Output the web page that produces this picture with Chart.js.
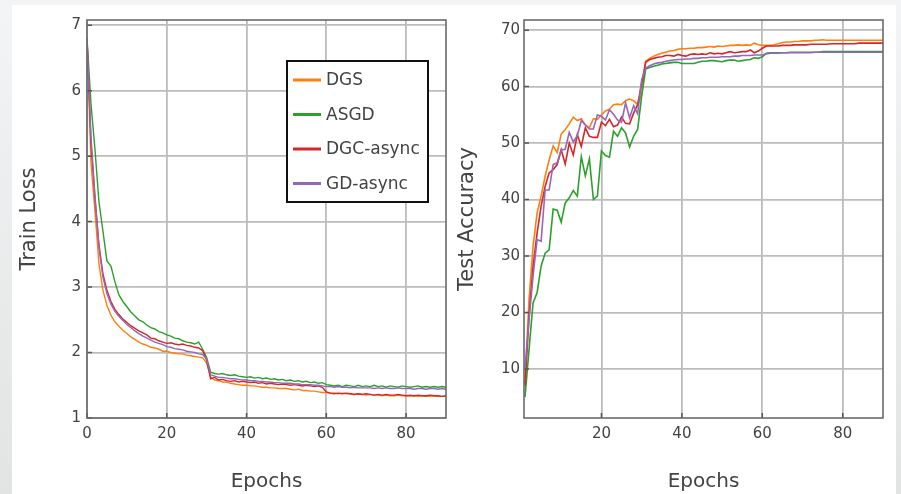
<!DOCTYPE html>
<html>
<head>
<meta charset="utf-8">
<script src="https://cdn.jsdelivr.net/npm/chart.js@4.4.1/dist/chart.umd.min.js"></script>
<style>
  html, body { margin: 0; padding: 0; }
  body {
    width: 901px; height: 494px; overflow: hidden; position: relative;
    background: linear-gradient(to bottom, #f3f4f5, #e2e3e3);
  }
  #panel { position: absolute; left: 12px; top: 5px; width: 884px; height: 489px; background: #fff; }
  #lossBox { position: absolute; left: 0; top: 0; width: 450px; height: 494px; }
  #accBox { position: absolute; left: 450px; top: 0; width: 451px; height: 494px; }
</style>
</head>
<body>
<div id="panel"></div>
<div id="lossBox"><canvas id="loss" width="450" height="494"></canvas></div>
<div id="accBox"><canvas id="acc" width="451" height="494"></canvas></div>
<script>
// ---- data ----
const seriesNames = ["DGS", "ASGD", "DGC-async", "GD-async"];
const seriesColors = ["#ff7f0e", "#2ca02c", "#d62728", "#9467bd"];

const lossEpochs = [0,1,2,3,4,5,6,7,8,9,10,11,12,13,14,15,16,17,18,19,20,21,22,23,24,25,26,27,28,29,30,
  31,32,33,34,35,36,37,38,39,40,41,42,43,44,45,46,47,48,49,50,51,52,53,54,55,56,57,58,59,60,
  61,62,63,64,65,66,67,68,69,70,71,72,73,74,75,76,77,78,79,80,81,82,83,84,85,86,87,88,89,90];

const lossDGS = [6.8,4.9,4.15,3.35,2.95,2.72,2.57,2.47,2.40,2.34,2.29,2.24,2.20,2.16,2.13,2.11,2.08,2.07,2.05,2.02,2.02,
  2.00,1.99,1.98,1.98,1.96,1.95,1.94,1.93,1.92,1.84,
  1.62,1.58,1.57,1.55,1.55,1.53,1.52,1.51,1.50,1.50,1.49,1.49,1.48,1.47,1.47,1.46,1.46,1.45,1.45,1.45,
  1.44,1.43,1.44,1.42,1.42,1.41,1.41,1.40,1.39,1.39,1.38,1.38,1.37,1.38,1.37,1.37,1.36,1.37,1.36,1.35,
  1.36,1.35,1.35,1.34,1.35,1.34,1.34,1.35,1.34,1.34,1.33,1.34,1.33,1.34,1.33,1.33,1.34,1.33,1.33,1.33];
const lossASGD = [6.8,5.8,5.1,4.3,3.85,3.40,3.32,3.08,2.88,2.78,2.70,2.62,2.56,2.50,2.47,2.42,2.38,2.36,2.32,2.30,2.27,
  2.25,2.22,2.21,2.18,2.16,2.15,2.13,2.16,2.05,1.92,
  1.70,1.68,1.67,1.68,1.66,1.65,1.66,1.64,1.63,1.62,1.63,1.61,1.62,1.60,1.61,1.59,1.60,1.58,1.59,1.57,
  1.58,1.56,1.57,1.55,1.56,1.54,1.55,1.53,1.54,1.51,1.50,1.49,1.50,1.48,1.50,1.49,1.48,1.50,1.48,1.49,
  1.48,1.50,1.48,1.49,1.47,1.49,1.48,1.47,1.49,1.48,1.47,1.48,1.49,1.47,1.48,1.47,1.48,1.47,1.48,1.47];
const lossDGC = [6.8,5.2,4.35,3.65,3.2,2.95,2.78,2.66,2.58,2.51,2.46,2.41,2.37,2.33,2.30,2.27,2.22,2.21,2.18,2.16,2.14,
  2.15,2.13,2.12,2.13,2.11,2.10,2.08,2.07,2.03,1.88,
  1.60,1.62,1.58,1.59,1.57,1.56,1.57,1.55,1.56,1.55,1.54,1.55,1.53,1.54,1.52,1.53,1.52,1.51,1.52,1.51,
  1.50,1.51,1.50,1.49,1.50,1.49,1.48,1.49,1.47,1.40,1.38,1.37,1.38,1.37,1.38,1.37,1.36,1.37,1.36,1.37,
  1.36,1.35,1.36,1.35,1.36,1.35,1.35,1.36,1.35,1.34,1.35,1.34,1.35,1.34,1.34,1.35,1.34,1.34,1.33,1.34];
const lossGD = [6.8,5.3,4.4,3.6,3.15,2.9,2.74,2.63,2.55,2.49,2.43,2.38,2.33,2.29,2.25,2.22,2.19,2.16,2.14,2.12,2.09,
  2.08,2.06,2.05,2.04,2.02,2.01,2.00,1.98,1.97,1.90,
  1.66,1.64,1.62,1.62,1.61,1.60,1.60,1.59,1.58,1.58,1.57,1.57,1.56,1.56,1.55,1.55,1.54,1.54,1.53,1.53,
  1.53,1.52,1.52,1.51,1.51,1.51,1.50,1.50,1.49,1.48,1.48,1.47,1.48,1.47,1.47,1.46,1.47,1.46,1.46,1.46,
  1.46,1.45,1.46,1.45,1.46,1.45,1.45,1.46,1.45,1.45,1.45,1.44,1.45,1.45,1.44,1.45,1.45,1.44,1.45,1.44];

const accEpochs = [1,2,3,4,5,6,7,8,9,10,11,12,13,14,15,16,17,18,19,20,21,22,23,24,25,26,27,28,29,30,
  31,32,33,34,35,36,37,38,39,40,41,42,43,44,45,46,47,48,49,50,51,52,53,54,55,56,57,58,59,60,
  61,62,63,64,65,66,67,68,69,70,71,72,73,74,75,76,77,78,79,80,81,82,83,84,85,86,87,88,89,90];

const accDGS = [7.5,22.3,31.7,37.6,40.6,44.1,47.0,49.5,48.3,51.6,52.4,53.4,54.6,54.0,54.3,53.2,52.7,54.3,54.2,55.0,
  55.7,56.0,56.8,56.9,56.8,57.5,57.8,57.5,56.8,58.6,
  64.5,65.0,65.4,65.7,65.9,66.1,66.3,66.4,66.6,66.7,66.7,66.8,66.8,66.9,66.9,67.0,67.1,67.0,67.2,67.1,
  67.2,67.3,67.3,67.4,67.3,67.4,67.3,67.7,67.4,67.3,67.3,67.3,67.4,67.6,67.8,67.9,67.9,68.0,68.0,68.1,
  68.1,68.1,68.2,68.2,68.3,68.2,68.2,68.2,68.2,68.2,68.2,68.2,68.2,68.2,68.2,68.2,68.2,68.2,68.2,68.2];
const accASGD = [5.0,13.4,21.7,23.5,28.2,30.5,31.1,38.3,38.1,36.0,39.4,40.3,41.6,40.6,47.6,44.2,47.2,40.0,40.6,48.6,
  47.8,47.5,52.1,51.2,52.7,51.8,49.3,51.2,52.4,58.3,
  63.1,63.4,63.6,63.8,64.0,64.1,64.2,64.3,64.3,64.1,64.1,64.1,64.1,64.3,64.5,64.5,64.6,64.6,64.5,64.4,
  64.6,64.7,64.7,64.5,64.6,64.7,64.8,65.1,65.0,65.3,65.9,66.0,66.0,66.0,66.0,66.0,66.1,66.1,66.1,66.1,
  66.1,66.1,66.1,66.1,66.2,66.2,66.2,66.2,66.2,66.2,66.2,66.2,66.2,66.2,66.2,66.2,66.2,66.2,66.2,66.2];
const accDGC = [7.0,19.3,28.2,34.0,38.8,42.3,44.7,45.3,46.2,48.8,46.3,50.0,47.9,51.5,49.4,52.7,51.2,51.0,51.0,53.7,
  53.1,54.2,52.9,53.2,54.6,53.5,53.4,55.3,56.8,60.6,
  64.3,64.8,65.0,65.2,65.3,65.5,65.5,65.4,65.7,65.5,65.4,65.7,65.8,65.7,65.8,65.7,66.0,65.8,65.9,65.8,
  66.0,66.2,66.0,66.1,66.2,66.2,66.5,66.0,66.3,66.8,67.2,67.2,67.2,67.2,67.3,67.3,67.3,67.4,67.4,67.4,
  67.4,67.5,67.5,67.5,67.5,67.5,67.6,67.6,67.6,67.6,67.6,67.6,67.6,67.7,67.7,67.7,67.7,67.7,67.7,67.7];
const accGD = [10.0,18.7,26.4,32.9,32.6,41.7,41.7,46.2,46.5,48.8,48.9,51.9,50.2,51.3,54.0,53.2,52.5,52.5,55.0,54.7,
  54.1,55.9,55.1,54.1,53.7,57.1,54.5,56.6,55.2,61.2,
  63.3,63.7,64.0,64.2,64.3,64.5,64.6,64.7,64.8,64.8,64.9,64.9,65.0,65.0,65.1,65.1,65.2,65.2,65.2,65.3,
  65.3,65.3,65.4,65.4,65.5,65.5,65.5,65.6,65.6,65.6,65.8,65.9,65.9,65.9,66.0,66.0,66.0,66.0,66.0,66.0,
  66.0,66.0,66.1,66.1,66.1,66.1,66.1,66.1,66.1,66.1,66.1,66.1,66.1,66.1,66.1,66.1,66.1,66.1,66.1,66.1];

const lossTicksY = [1, 2, 3, 4, 5, 6, 7];
const lossTicksX = [0, 20, 40, 60, 80];
const accTicksY = [10, 20, 30, 40, 50, 60, 70];
const accTicksX = [20, 40, 60, 80];

// ---- helpers ----
const FONT = "'DejaVu Sans', Verdana, sans-serif";
const TEXT = "#434343";
const GRID = "#bcbcbc";

function pairs(xs, ys) {
  return ys.map((v, i) => ({ x: xs[i], y: v }));
}

function makeDatasets(xs, lists, width) {
  // last series drawn on top, like the original
  return lists.map((ys, i) => ({
    label: seriesNames[i],
    data: pairs(xs, ys),
    borderColor: seriesColors[i],
    backgroundColor: seriesColors[i],
    borderWidth: width,
    pointRadius: 0,
    tension: 0,
    order: lists.length - i,
  }));
}

const framePlugin = {
  id: "frame",
  afterDatasetsDraw(chart) {
    const a = chart.chartArea;
    const ctx = chart.ctx;
    ctx.save();
    // short inward ticks
    ctx.strokeStyle = "#555";
    ctx.lineWidth = 1.5;
    ctx.beginPath();
    chart.scales.y.ticks.forEach((t) => {
      const y = chart.scales.y.getPixelForValue(t.value);
      ctx.moveTo(a.left, y); ctx.lineTo(a.left + 5, y);
    });
    chart.scales.x.ticks.forEach((t) => {
      const x = chart.scales.x.getPixelForValue(t.value);
      ctx.moveTo(x, a.bottom); ctx.lineTo(x, a.bottom - 5);
    });
    ctx.stroke();
    ctx.strokeStyle = "#6a6a6a";
    ctx.lineWidth = 1.6;
    ctx.strokeRect(a.left, a.top, a.right - a.left, a.bottom - a.top);
    ctx.restore();
  },
};

const boxLegend = {
  id: "boxLegend",
  afterDraw(chart, args, opts) {
    if (!opts.show) return;
    const ctx = chart.ctx;
    ctx.save();
    ctx.fillStyle = "#fff";
    ctx.fillRect(287, 61, 141, 141);
    ctx.strokeStyle = "#111";
    ctx.lineWidth = 2;
    ctx.strokeRect(287, 61, 141, 141);
    ctx.font = "17px " + FONT;
    ctx.textBaseline = "middle";
    chart.data.datasets.forEach((ds, i) => {
      const y = 80 + i * 34.5;
      ctx.strokeStyle = ds.borderColor;
      ctx.lineWidth = 3;
      ctx.beginPath();
      ctx.moveTo(293, y); ctx.lineTo(321, y);
      ctx.stroke();
      ctx.fillStyle = TEXT;
      ctx.fillText(ds.label, 326, y + 1);
    });
    ctx.restore();
  },
};

function axisX(min, max, ticks, titlePad) {
  return {
    type: "linear", min: min, max: max,
    afterBuildTicks: (s) => { s.ticks = ticks.map((v) => ({ value: v })); },
    afterFit: (s) => { s.height = 76; },
    ticks: { color: TEXT, font: { family: FONT, size: 15 }, padding: 7, maxRotation: 0 },
    grid: { color: GRID, lineWidth: 1.8, drawTicks: false },
    border: { display: false },
    title: { display: true, text: "Epochs", color: TEXT, font: { family: FONT, size: 20 }, padding: titlePad },
  };
}

function axisY(min, max, ticks, width, label, titlePad, tickPad) {
  return {
    type: "linear", min: min, max: max,
    afterBuildTicks: (s) => { s.ticks = ticks.map((v) => ({ value: v })); },
    afterFit: (s) => { s.width = width; },
    ticks: { color: TEXT, font: { family: FONT, size: 15 }, padding: tickPad },
    grid: { color: GRID, lineWidth: 1.8, drawTicks: false },
    border: { display: false },
    title: { display: true, text: label, color: TEXT, font: { family: FONT, size: 21 }, padding: titlePad },
  };
}

new Chart(document.getElementById("loss").getContext("2d"), {
  type: "line",
  data: { datasets: makeDatasets(lossEpochs, [lossDGS, lossASGD, lossDGC, lossGD], 1.4) },
  options: {
    responsive: false,
    animation: false,
    layout: { padding: { left: 0, right: 4, top: 20, bottom: 0 } },
    scales: {
      x: axisX(0, 90, lossTicksX, { top: 0, bottom: 0 }),
      y: axisY(1, 7.08, lossTicksY, 87, "Train Loss", { top: 17, bottom: 0 }, 6),
    },
    plugins: { legend: { display: false }, tooltip: { enabled: false }, boxLegend: { show: true } },
  },
  plugins: [framePlugin, boxLegend],
});

new Chart(document.getElementById("acc").getContext("2d"), {
  type: "line",
  data: { datasets: makeDatasets(accEpochs, [accDGS, accASGD, accDGC, accGD], 1.6) },
  options: {
    responsive: false,
    animation: false,
    layout: { padding: { left: 0, right: 18, top: 20, bottom: 0 } },
    scales: {
      x: axisX(0.75, 90, accTicksX, { top: 0, bottom: 0 }),
      y: axisY(1.3, 71.8, accTicksY, 74, "Test Accuracy", { top: 5, bottom: 0 }, 4),
    },
    plugins: { legend: { display: false }, tooltip: { enabled: false }, boxLegend: { show: false } },
  },
  plugins: [framePlugin],
});
</script>
</body>
</html>
